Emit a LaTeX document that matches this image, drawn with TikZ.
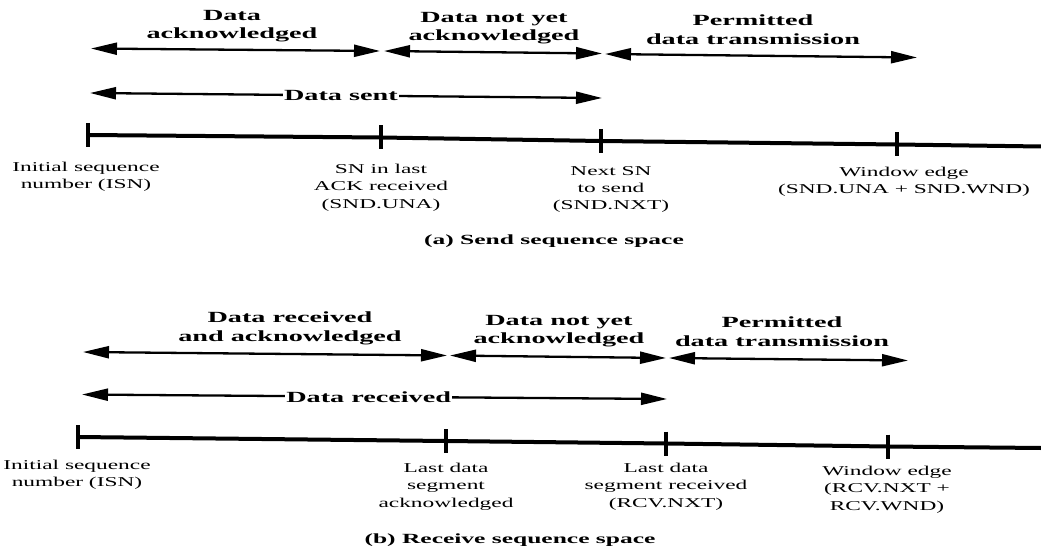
\documentclass[tikz,border=0pt]{standalone}
\usepackage{fontspec}
\setmainfont{Liberation Serif}
\newfontfamily\rmlab{Liberation Serif}[FakeStretch=1.73]
\newfontfamily\bflab{Liberation Serif}[FakeStretch=1.82]
\usetikzlibrary{arrows.meta}
\tikzset{
  lbl/.style={font=\rmlab\fontsize{13.5}{17.3}\selectfont, align=center, inner sep=0pt, anchor=north},
  hdr/.style={font=\bflab\bfseries\fontsize{15.5}{18.5}\selectfont, align=center, inner sep=0pt},
  hdrtop/.style={hdr, anchor=north},
  captext/.style={font=\bflab\bfseries\fontsize{14}{17}\selectfont, inner sep=0pt},
  spanarrow/.style={line width=2.3pt, {Triangle[length=26pt,width=12pt]}-{Triangle[length=26pt,width=12pt]}},
  axisline/.style={line width=4pt},
  tickmark/.style={line width=3.4pt},
  midtext/.style={hdr, fill=white, inner xsep=1pt, inner ysep=2pt},
}
\begin{document}
\begin{tikzpicture}[x=1pt,y=-1pt]
\path[use as bounding box] (0,0) rectangle (1041,556);

% ---------------- (a) Send sequence space ----------------
\coordinate (a0) at (91,48.5);
\coordinate (a1) at (380,51);
\coordinate (b0) at (384,51);
\coordinate (b1) at (602,53.5);
\coordinate (c0) at (605,54);
\coordinate (c1) at (917,57.5);
\coordinate (s0) at (90,93);
\coordinate (s1) at (602,98);
\coordinate (t0) at (88,135);
\coordinate (t1) at (381,137.5);
\coordinate (t2) at (601,141);
\coordinate (t3) at (897,144.5);
\coordinate (te) at (1041,146.5);

\node[hdrtop] (h1) at (232,10) {Data\\acknowledged};
\node[hdrtop] (h2) at (494,12) {Data not yet\\acknowledged};
\node[hdrtop] (h3) at (753,15) {Permitted\\data transmission};

\draw[spanarrow] (a0) -- (a1);
\draw[spanarrow] (b0) -- (b1);
\draw[spanarrow] (c0) -- (c1);
\draw[spanarrow] (s0) -- node[midtext, pos=0.49] (sent) {Data sent} (s1);

\draw[axisline] (t0) -- (t1) -- (t2) -- (t3) -- (te);
\foreach \t in {t0,t1,t2,t3}
  \draw[tickmark] ([yshift=12pt]\t) -- ([yshift=-12pt]\t);

\node[lbl] (l0) at (86,162) {Initial sequence\\number (ISN)};
\node[lbl] (l1) at (381,164) {SN in last\\ACK received\\(SND.UNA)};
\node[lbl] (l2) at (611,166) {Next SN\\to send\\(SND.NXT)};
\node[lbl] (l3) at (904,167) {Window edge\\(SND.UNA + SND.WND)};

\node[captext] (capa) at (554,241) {(a) Send sequence space};

% ---------------- (b) Receive sequence space ----------------
\coordinate (d0) at (83,352);
\coordinate (d1) at (447,355.5);
\coordinate (f0) at (450,355.5);
\coordinate (f1) at (666,358);
\coordinate (g0) at (669,358);
\coordinate (g1) at (908,360.5);
\coordinate (r0) at (82,394.5);
\coordinate (r1) at (667,399);
\coordinate (u0) at (78,437);
\coordinate (u1) at (446,441);
\coordinate (u2) at (666,443.5);
\coordinate (u3) at (888,446.5);
\coordinate (ue) at (1041,448);

\node[hdrtop] (k1) at (290,312) {Data received\\and acknowledged};
\node[hdrtop] (k2) at (559,315) {Data not yet\\acknowledged};
\node[hdrtop] (k3) at (782,317) {Permitted\\data transmission};

\draw[spanarrow] (d0) -- (d1);
\draw[spanarrow] (f0) -- (f1);
\draw[spanarrow] (g0) -- (g1);
\draw[spanarrow] (r0) -- node[midtext, pos=0.49] (recv) {Data received} (r1);

\draw[axisline] (u0) -- (u1) -- (u2) -- (u3) -- (ue);
\foreach \t in {u0,u1,u2,u3}
  \draw[tickmark] ([yshift=12pt]\t) -- ([yshift=-12pt]\t);

\node[lbl] (m0) at (77,460) {Initial sequence\\number (ISN)};
\node[lbl] (m1) at (446,463) {Last data\\segment\\acknowledged};
\node[lbl] (m2) at (666,463) {Last data\\segment received\\(RCV.NXT)};
\node[lbl] (m3) at (887,466) {Window edge\\(RCV.NXT +\\RCV.WND)};

\node[captext] (capb) at (510,540) {(b) Receive sequence space};
\end{tikzpicture}
\end{document}
